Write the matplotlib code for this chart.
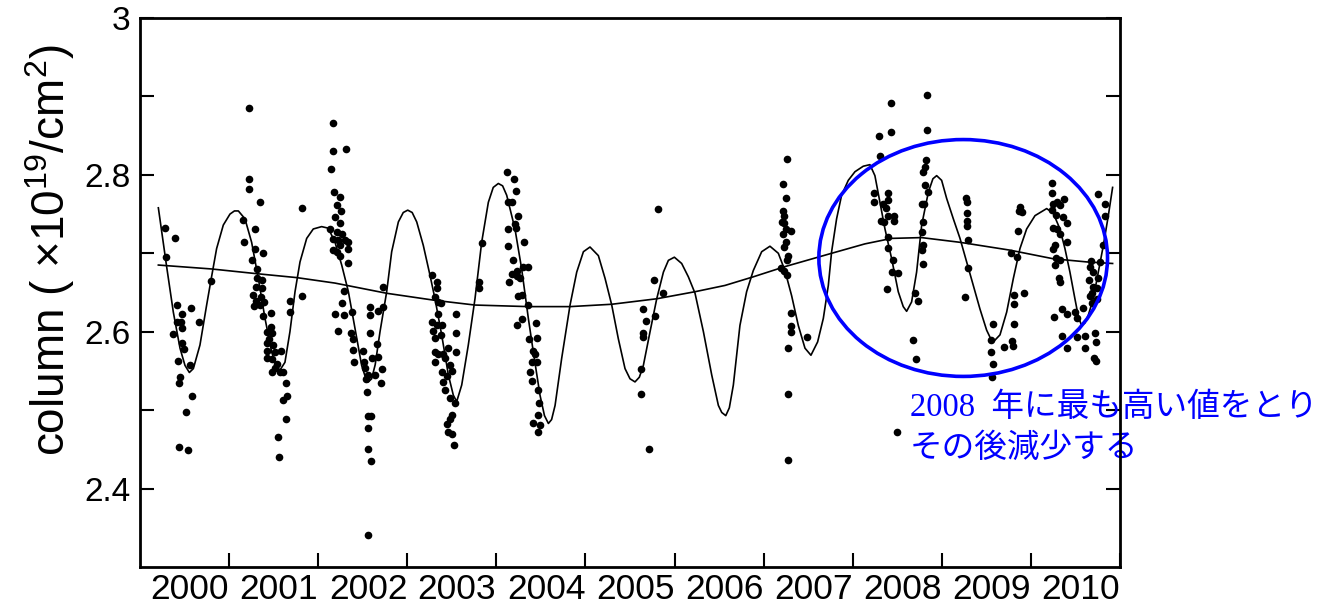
import matplotlib.pyplot as plt
from matplotlib.patches import Ellipse

# observed column (x10^19 /cm2), one list per observing season
obs_1999 = [(1999.281, 2.732), (1999.397, 2.720), (1999.288, 2.695), (1999.412, 2.634), (1999.475, 2.623),
            (1999.572, 2.630), (1999.419, 2.612), (1999.464, 2.612), (1999.475, 2.605), (1999.658, 2.612),
            (1999.374, 2.597), (1999.468, 2.585), (1999.494, 2.578), (1999.430, 2.563), (1999.561, 2.557),
            (1999.449, 2.542), (1999.438, 2.535), (1999.584, 2.518), (1999.516, 2.498), (1999.434, 2.453),
            (1999.542, 2.449), (1999.801, 2.665)]
obs_2000 = [(2000.223, 2.885), (2000.220, 2.795), (2000.220, 2.782), (2000.347, 2.766), (2000.152, 2.742),
            (2000.294, 2.731), (2000.171, 2.714), (2000.294, 2.706), (2000.384, 2.700), (2000.261, 2.691),
            (2000.309, 2.680), (2000.317, 2.669), (2000.365, 2.666), (2000.302, 2.657), (2000.369, 2.656),
            (2000.272, 2.647), (2000.354, 2.644), (2000.302, 2.639), (2000.392, 2.638), (2000.283, 2.633),
            (2000.347, 2.634), (2000.377, 2.620), (2000.466, 2.624), (2000.470, 2.606), (2000.422, 2.599),
            (2000.481, 2.598), (2000.444, 2.591), (2000.422, 2.585), (2000.489, 2.583), (2000.429, 2.575),
            (2000.519, 2.574), (2000.586, 2.576), (2000.422, 2.566), (2000.478, 2.565), (2000.534, 2.559),
            (2000.515, 2.554), (2000.478, 2.548), (2000.571, 2.548), (2000.609, 2.549), (2000.635, 2.535),
            (2000.646, 2.518), (2000.609, 2.513), (2000.635, 2.489), (2000.553, 2.466), (2000.560, 2.440),
            (2000.822, 2.758), (2000.687, 2.639), (2000.683, 2.625), (2000.822, 2.646)]
obs_2001 = [(2001.170, 2.866), (2001.170, 2.831), (2001.144, 2.808), (2001.177, 2.778), (2001.132, 2.731),
            (2001.162, 2.718), (2001.162, 2.704), (2001.192, 2.623), (2001.222, 2.601), (2001.312, 2.833),
            (2001.245, 2.772), (2001.208, 2.761), (2001.256, 2.754), (2001.189, 2.746), (2001.245, 2.739),
            (2001.208, 2.727), (2001.264, 2.724), (2001.219, 2.717), (2001.301, 2.717), (2001.339, 2.715),
            (2001.245, 2.710), (2001.339, 2.705), (2001.208, 2.702), (2001.245, 2.697), (2001.339, 2.687),
            (2001.294, 2.652), (2001.271, 2.636), (2001.294, 2.621), (2001.376, 2.625), (2001.369, 2.598),
            (2001.395, 2.591), (2001.395, 2.577), (2001.507, 2.576), (2001.406, 2.562), (2001.518, 2.562),
            (2001.601, 2.566), (2001.668, 2.568), (2001.582, 2.632), (2001.582, 2.621), (2001.675, 2.627),
            (2001.731, 2.632), (2001.731, 2.657), (2001.582, 2.598), (2001.657, 2.584), (2001.526, 2.554),
            (2001.713, 2.553), (2001.563, 2.545), (2001.638, 2.545), (2001.537, 2.540), (2001.705, 2.535),
            (2001.544, 2.523), (2001.563, 2.492), (2001.589, 2.492), (2001.556, 2.477), (2001.556, 2.451),
            (2001.593, 2.435), (2001.559, 2.341)]
obs_2002 = [(2002.281, 2.672), (2002.337, 2.664), (2002.337, 2.656), (2002.311, 2.644), (2002.349, 2.638),
            (2002.379, 2.636), (2002.349, 2.623), (2002.274, 2.612), (2002.330, 2.608), (2002.386, 2.609),
            (2002.293, 2.601), (2002.379, 2.596), (2002.311, 2.592), (2002.547, 2.623), (2002.547, 2.598),
            (2002.547, 2.574), (2002.311, 2.574), (2002.349, 2.572), (2002.405, 2.571), (2002.461, 2.579),
            (2002.424, 2.566), (2002.311, 2.562), (2002.480, 2.558), (2002.386, 2.549), (2002.498, 2.550),
            (2002.442, 2.543), (2002.405, 2.536), (2002.424, 2.526), (2002.480, 2.515), (2002.536, 2.509),
            (2002.498, 2.494), (2002.480, 2.489), (2002.442, 2.482), (2002.461, 2.472), (2002.506, 2.469),
            (2002.528, 2.456), (2002.835, 2.713), (2002.809, 2.663), (2002.809, 2.656)]
obs_2003 = [(2003.123, 2.804), (2003.202, 2.795), (2003.224, 2.779), (2003.134, 2.765), (2003.172, 2.765),
            (2003.247, 2.748), (2003.127, 2.731), (2003.209, 2.737), (2003.217, 2.732), (2003.310, 2.714),
            (2003.134, 2.709), (2003.183, 2.692), (2003.303, 2.683), (2003.228, 2.678), (2003.351, 2.682),
            (2003.172, 2.673), (2003.142, 2.664), (2003.228, 2.671), (2003.265, 2.668), (2003.247, 2.646),
            (2003.291, 2.647), (2003.351, 2.634), (2003.228, 2.609), (2003.291, 2.616), (2003.366, 2.591),
            (2003.396, 2.562), (2003.377, 2.549), (2003.396, 2.537), (2003.415, 2.484), (2003.445, 2.611),
            (2003.460, 2.592), (2003.415, 2.576), (2003.434, 2.571), (2003.460, 2.562), (2003.472, 2.526),
            (2003.483, 2.509), (2003.472, 2.494), (2003.490, 2.481), (2003.472, 2.472)]
obs_2004 = [(2004.811, 2.756), (2004.770, 2.666), (2004.874, 2.649), (2004.642, 2.629), (2004.781, 2.620),
            (2004.680, 2.614), (2004.642, 2.598), (2004.650, 2.593), (2004.624, 2.553), (2004.624, 2.520),
            (2004.717, 2.450)]
obs_2006 = [(2006.258, 2.820), (2006.213, 2.788), (2006.251, 2.771), (2006.221, 2.754), (2006.232, 2.748),
            (2006.202, 2.740), (2006.232, 2.739), (2006.251, 2.731), (2006.307, 2.728), (2006.221, 2.725),
            (2006.251, 2.714), (2006.232, 2.708), (2006.277, 2.697), (2006.258, 2.691), (2006.194, 2.681),
            (2006.232, 2.678), (2006.258, 2.672), (2006.307, 2.624), (2006.307, 2.607), (2006.307, 2.599),
            (2006.277, 2.579), (2006.486, 2.593), (2006.277, 2.521), (2006.277, 2.436)]
obs_2007 = [(2007.429, 2.892), (2007.294, 2.850), (2007.425, 2.855), (2007.306, 2.824), (2007.234, 2.777),
            (2007.399, 2.777), (2007.238, 2.765), (2007.343, 2.763), (2007.399, 2.768), (2007.369, 2.758),
            (2007.317, 2.741), (2007.399, 2.748), (2007.466, 2.748), (2007.354, 2.740), (2007.466, 2.741),
            (2007.392, 2.721), (2007.399, 2.707), (2007.455, 2.691), (2007.437, 2.676), (2007.511, 2.675),
            (2007.388, 2.655), (2007.698, 2.649), (2007.728, 2.639), (2007.680, 2.590), (2007.706, 2.565),
            (2007.493, 2.472), (2007.830, 2.902), (2007.837, 2.857), (2007.822, 2.819), (2007.811, 2.810),
            (2007.792, 2.804), (2007.811, 2.787), (2007.849, 2.778), (2007.774, 2.763), (2007.800, 2.763),
            (2007.792, 2.740), (2007.774, 2.727), (2007.792, 2.710), (2007.774, 2.704), (2007.785, 2.686)]
obs_2008 = [(2008.271, 2.770), (2008.279, 2.766), (2008.286, 2.751), (2008.279, 2.741), (2008.279, 2.735),
            (2008.290, 2.717), (2008.297, 2.681), (2008.260, 2.644), (2008.548, 2.590), (2008.578, 2.610),
            (2008.548, 2.574), (2008.571, 2.559), (2008.559, 2.542), (2008.698, 2.581), (2008.791, 2.588),
            (2008.802, 2.582), (2008.810, 2.610), (2008.810, 2.635), (2008.810, 2.647), (2008.922, 2.649),
            (2008.851, 2.729), (2008.773, 2.701), (2008.847, 2.695), (2008.877, 2.759), (2008.866, 2.754),
            (2008.896, 2.753)]
obs_2009 = [(2009.233, 2.789), (2009.233, 2.777), (2009.251, 2.763), (2009.289, 2.765), (2009.326, 2.761),
            (2009.371, 2.769), (2009.233, 2.755), (2009.281, 2.749), (2009.364, 2.746), (2009.401, 2.739),
            (2009.244, 2.732), (2009.289, 2.731), (2009.326, 2.725), (2009.401, 2.715), (2009.270, 2.710),
            (2009.244, 2.706), (2009.281, 2.694), (2009.326, 2.692), (2009.270, 2.685), (2009.319, 2.669),
            (2009.326, 2.664), (2009.263, 2.619), (2009.345, 2.629), (2009.401, 2.623), (2009.495, 2.625),
            (2009.513, 2.618), (2009.588, 2.630), (2009.345, 2.595), (2009.401, 2.579), (2009.513, 2.593),
            (2009.607, 2.595), (2009.607, 2.579), (2009.719, 2.598), (2009.730, 2.587), (2009.708, 2.567),
            (2009.730, 2.563), (2009.756, 2.776), (2009.831, 2.763), (2009.831, 2.748), (2009.805, 2.710),
            (2009.670, 2.690), (2009.663, 2.683), (2009.775, 2.689), (2009.693, 2.676), (2009.756, 2.668),
            (2009.655, 2.666), (2009.700, 2.657), (2009.738, 2.656), (2009.682, 2.649), (2009.663, 2.646),
            (2009.738, 2.642), (2009.682, 2.636)]

# seasonal fit curve
fit_year = [1999.206, 1999.299, 1999.374, 1999.449, 1999.505, 1999.554, 1999.599, 1999.673, 1999.748, 1999.797,
            1999.860, 1999.935, 2000.010, 2000.060, 2000.104, 2000.178, 2000.253, 2000.328, 2000.403, 2000.478,
            2000.534, 2000.571, 2000.627, 2000.683, 2000.740, 2000.796, 2000.871, 2000.945, 2001.039, 2001.114,
            2001.189, 2001.264, 2001.339, 2001.413, 2001.488, 2001.530, 2001.563, 2001.600, 2001.640, 2001.694,
            2001.769, 2001.825, 2001.900, 2001.955, 2002.005, 2002.055, 2002.106, 2002.180, 2002.255, 2002.311,
            2002.386, 2002.461, 2002.517, 2002.555, 2002.611, 2002.685, 2002.760, 2002.835, 2002.910, 2002.965,
            2003.022, 2003.070, 2003.116, 2003.209, 2003.284, 2003.359, 2003.415, 2003.490, 2003.540, 2003.584,
            2003.620, 2003.659, 2003.733, 2003.827, 2003.902, 2003.977, 2004.051, 2004.145, 2004.220, 2004.295,
            2004.369, 2004.444, 2004.500, 2004.556, 2004.605, 2004.650, 2004.725, 2004.800, 2004.875, 2004.931,
            2004.998, 2005.080, 2005.155, 2005.230, 2005.324, 2005.417, 2005.492, 2005.530, 2005.575, 2005.615,
            2005.660, 2005.734, 2005.809, 2005.884, 2005.978, 2006.071, 2006.165, 2006.239, 2006.314, 2006.389,
            2006.464, 2006.531, 2006.606, 2006.670, 2006.726, 2006.763, 2006.819, 2006.875, 2006.950, 2007.025,
            2007.118, 2007.193, 2007.249, 2007.306, 2007.362, 2007.437, 2007.511, 2007.567, 2007.605, 2007.661,
            2007.717, 2007.774, 2007.849, 2007.900, 2007.942, 2007.998, 2008.054, 2008.129, 2008.204, 2008.279,
            2008.354, 2008.428, 2008.503, 2008.545, 2008.586, 2008.653, 2008.728, 2008.803, 2008.877, 2008.952,
            2009.046, 2009.177, 2009.251, 2009.326, 2009.382, 2009.438, 2009.494, 2009.535, 2009.569, 2009.605,
            2009.644, 2009.700, 2009.757, 2009.813, 2009.869, 2009.917]
fit_col = [2.758, 2.683, 2.625, 2.579, 2.557, 2.548, 2.553, 2.583, 2.634, 2.666,
           2.706, 2.736, 2.750, 2.754, 2.754, 2.744, 2.714, 2.668, 2.617, 2.574,
           2.555, 2.551, 2.561, 2.600, 2.651, 2.689, 2.719, 2.731, 2.734, 2.732,
           2.714, 2.685, 2.651, 2.604, 2.557, 2.542, 2.536, 2.540, 2.558, 2.600,
           2.651, 2.702, 2.740, 2.752, 2.755, 2.752, 2.740, 2.710, 2.672, 2.642,
           2.596, 2.545, 2.519, 2.511, 2.532, 2.583, 2.642, 2.714, 2.765, 2.784,
           2.789, 2.786, 2.774, 2.731, 2.680, 2.617, 2.574, 2.519, 2.493, 2.483,
           2.488, 2.506, 2.566, 2.634, 2.676, 2.702, 2.708, 2.697, 2.668, 2.634,
           2.591, 2.553, 2.540, 2.536, 2.542, 2.557, 2.600, 2.642, 2.676, 2.691,
           2.695, 2.687, 2.670, 2.649, 2.600, 2.545, 2.506, 2.497, 2.493, 2.503,
           2.532, 2.608, 2.651, 2.678, 2.702, 2.709, 2.700, 2.678, 2.646, 2.608,
           2.579, 2.570, 2.587, 2.617, 2.659, 2.702, 2.744, 2.774, 2.793, 2.804,
           2.811, 2.813, 2.799, 2.765, 2.731, 2.693, 2.651, 2.632, 2.626, 2.638,
           2.676, 2.736, 2.778, 2.795, 2.799, 2.793, 2.770, 2.744, 2.719, 2.689,
           2.659, 2.629, 2.602, 2.592, 2.588, 2.596, 2.625, 2.668, 2.706, 2.731,
           2.748, 2.757, 2.751, 2.731, 2.706, 2.676, 2.642, 2.618, 2.608, 2.611,
           2.621, 2.642, 2.676, 2.710, 2.748, 2.784]

# long-term trend
trend_year = [1999.206, 1999.804, 2000.309, 2000.758, 2001.189, 2001.769, 2002.311, 2002.760, 2003.359,
              2003.827, 2004.295, 2004.800, 2005.230, 2005.566, 2005.884, 2006.239, 2006.763, 2007.137,
              2007.437, 2007.773, 2008.204, 2008.765, 2009.251, 2009.626, 2009.917]
trend_col = [2.685, 2.680, 2.674, 2.669, 2.662, 2.649, 2.640, 2.634, 2.632,
             2.632, 2.635, 2.642, 2.651, 2.659, 2.670, 2.683, 2.700, 2.712,
             2.719, 2.720, 2.714, 2.704, 2.693, 2.689, 2.687]

year_labels = ['2000', '2001', '2002', '2003', '2004', '2005', '2006', '2007', '2008', '2009', '2010']
col_ticks = [2.4, 2.5, 2.6, 2.7, 2.8, 2.9, 3.0]
col_labels = ['2.4', '', '2.6', '', '2.8', '', '3']

obs = obs_1999 + obs_2000 + obs_2001 + obs_2002 + obs_2003 + obs_2004 + obs_2006 + obs_2007 + obs_2008 + obs_2009
obs_year = [p[0] for p in obs]
obs_col = [p[1] for p in obs]

plt.rcParams['font.family'] = ['Liberation Sans', 'DejaVu Sans']
plt.rcParams['mathtext.fontset'] = 'custom'
plt.rcParams['mathtext.rm'] = 'Liberation Sans'
plt.rcParams['mathtext.it'] = 'Liberation Sans:italic'

fig = plt.figure(figsize=(13.42, 6.07), dpi=100)
ax = fig.add_axes([140 / 1342, 40 / 607, 980 / 1342, 549 / 607])

ax.plot(fit_year, fit_col, color='black', lw=1.2)
ax.plot(trend_year, trend_col, color='black', lw=1.2)
ax.plot(obs_year, obs_col, 'o', color='black', ms=5.5, mew=0)

ax.add_patch(Ellipse((2008.24, 2.694), 3.24, 0.302, fill=False, edgecolor='#0000ff', lw=2.6, zorder=4))

ax.set_xlim(1999, 2010)
ax.set_ylim(2.3, 3.0)
ax.set_xticks(range(2000, 2011))
ax.set_xticklabels(year_labels, ha='right')
ax.set_yticks(col_ticks)
ax.set_yticklabels(col_labels)
ax.tick_params(axis='x', direction='in', length=10, width=1.5, labelsize=25.5, pad=4, top=False)
ax.tick_params(axis='y', direction='in', length=10, width=1.5, labelsize=24, pad=7, right=True)
for s in ax.spines.values():
    s.set_linewidth(2)

fig.text(50 / 1342, 1 - 250 / 607, r'column ( $\times$10$^{19}$/cm$^{2}$)', rotation=90,
         ha='center', va='center', fontsize=33)

jp = ['Liberation Serif', 'Noto Sans CJK JP']
ax.text(2007.643, 2.5025, '2008  年に最も高い値をとり', color='#0000ff', fontsize=23.5, family=jp,
        ha='left', va='center', clip_on=False, zorder=2)
ax.text(2007.643, 2.451, 'その後減少する', color='#0000ff', fontsize=23.5, family=jp,
        ha='left', va='center', clip_on=False, zorder=2)

fig.savefig('out.png', dpi=100)
